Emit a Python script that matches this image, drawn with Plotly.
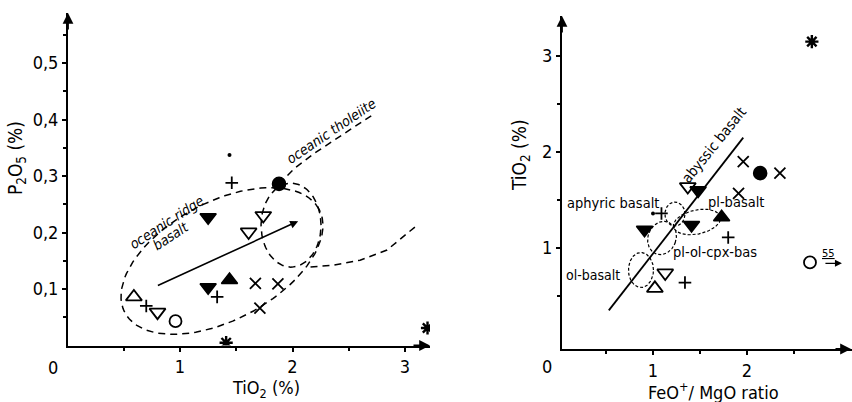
import numpy as np
import plotly.graph_objects as go

W, H = 852, 402
FONT = "DejaVu Sans Condensed, Liberation Sans Narrow, DejaVu Sans, sans-serif"

# ---------------- Left panel data: TiO2 (%) vs P2O5 (%) ----------------
L_filled_down_x = [1.25, 1.25]
L_filled_down_y = [0.227, 0.103]
L_open_down_x = [1.74, 0.80]
L_open_down_y = [0.230, 0.059]
L_half_down_x = [1.61]
L_half_down_y = [0.201]
L_filled_up_x = [1.44]
L_filled_up_y = [0.116]
L_open_up_x = [0.59]
L_open_up_y = [0.086]
L_filled_circle_x = [1.88]
L_filled_circle_y = [0.286]
L_open_circle_x = [0.96]
L_open_circle_y = [0.043]
L_plus_x = [1.46, 1.33, 0.70]
L_plus_y = [0.288, 0.086, 0.070]
L_cross_x = [1.67, 1.87, 1.71]
L_cross_y = [0.110, 0.109, 0.066]
L_star_x = [3.20, 1.41]
L_star_y = [0.031, 0.005]
L_dot_x = [1.44]
L_dot_y = [0.337]

# trend arrow (start, end)
L_arrow_x = [0.79, 2.05]
L_arrow_y = [0.105, 0.220]
# oceanic tholeiite field boundaries
L_thol_upper_x = [1.88, 2.02, 2.20, 2.42, 2.71]
L_thol_upper_y = [0.286, 0.314, 0.341, 0.370, 0.408]
L_thol_lower_x = [2.16, 2.36, 2.60, 2.84, 3.09]
L_thol_lower_y = [0.139, 0.142, 0.151, 0.169, 0.210]

L_ytick_vals = [0.1, 0.2, 0.3, 0.4, 0.5]
L_ytick_text = ["0,1", "0,2", "0,3", "0,4", "0,5"]
L_xtick_vals = [1, 2, 3]
L_xtick_text = ["1", "2", "3"]

# ---------------- Right panel data: FeO*/MgO ratio vs TiO2 (%) ----------------
R_filled_down_x = [1.48, 1.41, 0.91]
R_filled_down_y = [1.60, 1.24, 1.19]
R_open_down_x = [1.37, 1.13]
R_open_down_y = [1.64, 0.74]
R_filled_up_x = [1.73]
R_filled_up_y = [1.32]
R_open_up_x = [1.02]
R_open_up_y = [0.58]
R_filled_circle_x = [2.14]
R_filled_circle_y = [1.78]
R_open_circle_x = [2.67]
R_open_circle_y = [0.85]
R_plus_x = [1.09, 1.80, 1.34]
R_plus_y = [1.36, 1.11, 0.64]
R_cross_x = [1.96, 2.35, 1.91]
R_cross_y = [1.90, 1.78, 1.57]
R_star_x = [2.69]
R_star_y = [3.15]
R_dot_x = [1.00]
R_dot_y = [1.36]

R_abyssic_x = [0.53, 1.96]
R_abyssic_y = [0.35, 2.15]

R_ytick_vals = [1, 2, 3]
R_ytick_text = ["1", "2", "3"]
R_xtick_vals = [1, 2]
R_xtick_text = ["1", "2"]

# ---------------- layout geometry ----------------
Lx_dom = [68 / W, 430 / W]
Ly_dom = [1 - 345.5 / H, 1 - 13 / H]
Lx_rng = [0.0044, 3.222]
Ly_rng = [0.0, 0.5885]
Rx_dom = [562 / W, 1.0]
Ry_dom = [1 - 349 / H, 1 - 16 / H]
Rx_rng = [0.032, 3.117]
Ry_rng = [-0.052, 3.417]

def scale(dom, rng, size):
    return (dom[1] - dom[0]) * size / (rng[1] - rng[0])

Lsx, Lsy = scale(Lx_dom, Lx_rng, W), scale(Ly_dom, Ly_rng, H)
Rsx, Rsy = scale(Rx_dom, Rx_rng, W), scale(Ry_dom, Ry_rng, H)

def ellipse(cx, cy, a_px, b_px, ang_deg, sx, sy, n=120):
    t = np.linspace(0, 2 * np.pi, n)
    th = np.radians(ang_deg)
    px = a_px * np.cos(t) * np.cos(th) - b_px * np.sin(t) * np.sin(th)
    py = a_px * np.cos(t) * np.sin(th) + b_px * np.sin(t) * np.cos(th)
    return cx + px / sx, cy + py / sy

fig = go.Figure()

def pts(x, y, sym, size, xa, ya, lw=1.6, color="black"):
    fig.add_trace(go.Scatter(
        x=x, y=y, mode="markers", xaxis=xa, yaxis=ya, showlegend=False,
        marker=dict(symbol=sym, size=size, color=color, line=dict(color="black", width=lw))))

def line(x, y, xa, ya, dash="solid", width=1.6):
    fig.add_trace(go.Scatter(
        x=list(x), y=list(y), mode="lines", xaxis=xa, yaxis=ya, showlegend=False,
        line=dict(color="black", width=width, dash=dash)))

# left fields
ex, ey = ellipse(1.373, 0.1496, 110, 59, 28, Lsx, Lsy)
line(ex, ey, "x", "y", dash="7px,5px", width=1.5)
ex, ey = ellipse(1.987, 0.213, 30, 42, 0, Lsx, Lsy)
line(ex, ey, "x", "y", dash="7px,5px", width=1.5)
line(L_thol_upper_x, L_thol_upper_y, "x", "y", dash="7px,5px", width=1.5)
line(L_thol_lower_x, L_thol_lower_y, "x", "y", dash="7px,5px", width=1.5)

# right fields
for cx, cy, a, b, ang in [(1.234, 1.354, 10, 12, 0), (1.468, 1.271, 24, 12, 12),
                          (1.096, 1.104, 14, 17, -20), (0.872, 0.771, 12.5, 17.5, 0)]:
    ex, ey = ellipse(cx, cy, a, b, ang, Rsx, Rsy)
    line(ex, ey, "x2", "y2", dash="3px,2px", width=1.2)
line(R_abyssic_x, R_abyssic_y, "x2", "y2", width=1.8)

for (xa, ya, D) in [("x", "y", dict(fd=(L_filled_down_x, L_filled_down_y), od=(L_open_down_x, L_open_down_y),
                                     fu=(L_filled_up_x, L_filled_up_y), ou=(L_open_up_x, L_open_up_y),
                                     fc=(L_filled_circle_x, L_filled_circle_y), oc=(L_open_circle_x, L_open_circle_y),
                                     pl=(L_plus_x, L_plus_y), cr=(L_cross_x, L_cross_y),
                                     st=(L_star_x, L_star_y), dt=(L_dot_x, L_dot_y))),
                    ("x2", "y2", dict(fd=(R_filled_down_x, R_filled_down_y), od=(R_open_down_x, R_open_down_y),
                                      fu=(R_filled_up_x, R_filled_up_y), ou=(R_open_up_x, R_open_up_y),
                                      fc=(R_filled_circle_x, R_filled_circle_y), oc=(R_open_circle_x, R_open_circle_y),
                                      pl=(R_plus_x, R_plus_y), cr=(R_cross_x, R_cross_y),
                                      st=(R_star_x, R_star_y), dt=(R_dot_x, R_dot_y)))]:
    pts(*D["fd"], "triangle-down", 14, xa, ya)
    pts(*D["od"], "triangle-down-open", 14, xa, ya, lw=1.8)
    pts(*D["fu"], "triangle-up", 14, xa, ya)
    pts(*D["ou"], "triangle-up-open", 14, xa, ya, lw=1.8)
    pts(*D["fc"], "circle", 13, xa, ya)
    pts(*D["oc"], "circle-open", 12, xa, ya, lw=1.8)
    pts(*D["pl"], "cross-thin-open", 9, xa, ya, lw=1.8)
    pts(*D["cr"], "x-thin-open", 11, xa, ya, lw=1.8)
    pts(*D["st"], "asterisk-open", 11, xa, ya, lw=2.4)
    pts(*D["dt"], "circle", 4, xa, ya, lw=0)

# half-filled triangle (left panel): open outline plus filled left half
pts(L_half_down_x, L_half_down_y, "triangle-down-open", 14, "x", "y", lw=1.8)

ann = []
# trend arrow
ann.append(dict(x=L_arrow_x[1], y=L_arrow_y[1], ax=L_arrow_x[0], ay=L_arrow_y[0],
                xref="x", yref="y", axref="x", ayref="y", showarrow=True,
                arrowhead=2, arrowsize=1, arrowwidth=1.6, arrowcolor="black", text=""))
# axis arrowheads
for (x, y, axv, ayv) in [(Lx_dom[0], Ly_dom[1], 0, 18), (Lx_dom[1], Ly_dom[0], -18, 0),
                         (Rx_dom[0], Ry_dom[1], 0, 18), (Rx_dom[1], Ry_dom[0], -18, 0)]:
    ann.append(dict(x=x, y=y, xref="paper", yref="paper", ax=axv, ay=ayv, showarrow=True,
                    arrowhead=2, arrowsize=1.2, arrowwidth=1.8, arrowcolor="black", text=""))

def txt(text, x, y, xref, yref, size, angle=0, xanchor="center", italic=False):
    ann.append(dict(text=text, x=x, y=y, xref=xref, yref=yref, showarrow=False,
                    textangle=angle, xanchor=xanchor, yanchor="middle",
                    font=dict(family=FONT, size=size, color="black",
                              style="italic" if italic else "normal")))

# left texts
txt("oceanic tholeiite", 2.342, 0.380, "x", "y", 14, -34, italic=True)
txt("oceanic ridge", 0.884, 0.2186, "x", "y", 14, -33, italic=True)
txt("basalt", 0.915, 0.194, "x", "y", 14, -33, italic=True)
# right texts
txt("abyssic basalt", 1.65, 2.07, "x2", "y2", 14.5, -51)
txt("aphyric basalt", 0.06, 1.47, "x2", "y2", 14.5, xanchor="left")
txt("pl-basalt", 1.88, 1.48, "x2", "y2", 14.5)
txt("pl-ol-cpx-bas", 1.66, 0.96, "x2", "y2", 14.5)
txt("ol-basalt", 0.36, 0.72, "x2", "y2", 14)
txt("<u>55</u>", 2.87, 0.94, "x2", "y2", 11)
ann.append(dict(x=3.01, y=0.84, xref="x2", yref="y2", ax=-18, ay=0, showarrow=True,
                arrowhead=2, arrowsize=1, arrowwidth=1.4, arrowcolor="black", text=""))

# axis titles and corner zeros
txt("0", 53 / W, 1 - 367 / H, "paper", "paper", 18)
txt("0", 547 / W, 1 - 366 / H, "paper", "paper", 18)
txt("TiO<sub>2</sub> (%)", 266 / W, 1 - 389 / H, "paper", "paper", 18)
txt("P<sub>2</sub>O<sub>5</sub> (%)", 16 / W, 1 - 158 / H, "paper", "paper", 19, -90)
txt("TiO<sub>2</sub> (%)", 520 / W, 1 - 155 / H, "paper", "paper", 19, -90)
txt("FeO<sup>+</sup>/ MgO ratio", 713 / W, 1 - 391 / H, "paper", "paper", 18)

axis_common = dict(showline=True, linecolor="black", linewidth=2, showgrid=False, zeroline=False,
                   ticks="outside", ticklen=4, tickwidth=1.5, tickcolor="black",
                   tickfont=dict(family=FONT, size=18, color="black"), fixedrange=True)

fig.update_layout(
    width=W, height=H, margin=dict(l=0, r=0, t=0, b=0),
    paper_bgcolor="white", plot_bgcolor="white", showlegend=False,
    xaxis=dict(domain=Lx_dom, range=Lx_rng, anchor="y", tickvals=L_xtick_vals, ticktext=L_xtick_text,
               minor=dict(tickvals=[0.5, 1.5, 2.5], ticks="outside", ticklen=3, tickcolor="black"),
               ticklabelstandoff=0, **axis_common),
    yaxis=dict(domain=Ly_dom, range=Ly_rng, anchor="x", tickvals=L_ytick_vals, ticktext=L_ytick_text,
               minor=dict(tickvals=[0.05, 0.15, 0.25, 0.35, 0.45, 0.55], ticks="outside", ticklen=3, tickcolor="black"),
               **axis_common),
    xaxis2=dict(domain=Rx_dom, range=Rx_rng, anchor="y2", tickvals=R_xtick_vals, ticktext=R_xtick_text,
                minor=dict(tickvals=[0.5, 1.5, 2.5], ticks="outside", ticklen=3, tickcolor="black"),
                ticklabelstandoff=0, **axis_common),
    yaxis2=dict(domain=Ry_dom, range=Ry_rng, anchor="x2", tickvals=R_ytick_vals, ticktext=R_ytick_text,
                minor=dict(tickvals=[0.5, 1.5, 2.5], ticks="outside", ticklen=3, tickcolor="black"),
                **axis_common),
    annotations=ann,
)

fig.write_html("out.html", config={"displayModeBar": False},
               post_script="document.body.style.margin='0';document.body.style.overflow='hidden';")
